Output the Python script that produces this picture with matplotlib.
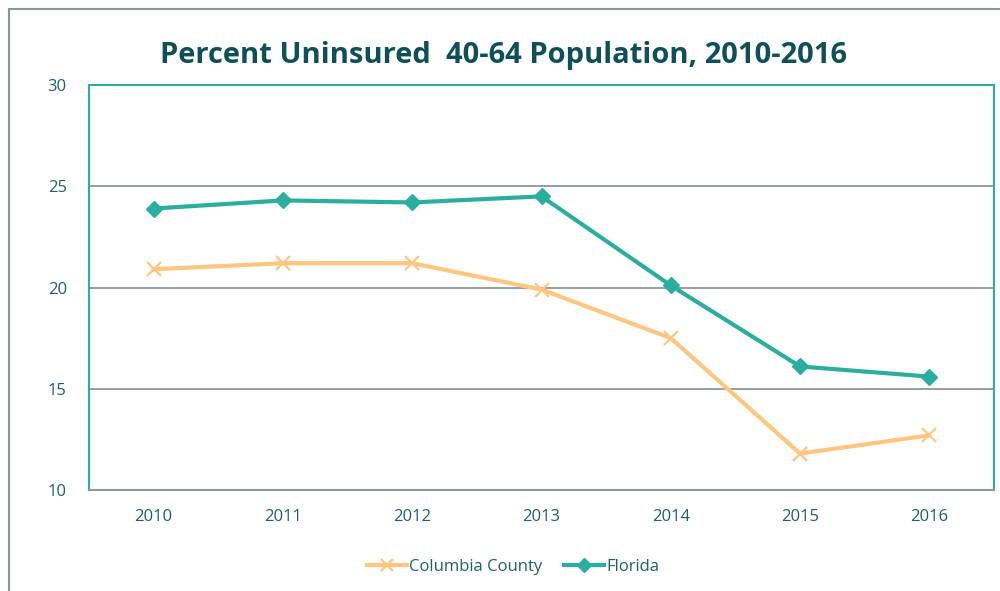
import matplotlib
matplotlib.use("Agg")
import matplotlib.pyplot as plt
from matplotlib.patches import Rectangle

years = ["2010", "2011", "2012", "2013", "2014", "2015", "2016"]
columbia = [20.9, 21.2, 21.2, 19.9, 17.5, 11.8, 12.7]
florida = [23.9, 24.3, 24.2, 24.5, 20.1, 16.1, 15.6]
yticks = [10, 15, 20, 25, 30]

TEAL = "#2AAE9E"
ORANGE = "#FFC680"
GRID = "#8C979B"
TEXT = "#1F5F6B"
TITLE = "#0E4F5A"

plt.rcParams['font.family'] = ['Open Sans', 'DejaVu Sans']

fig = plt.figure(figsize=(10, 5.91), dpi=100)
fig.patch.set_facecolor("white")

# outer chart frame (cropped at right/bottom)
fig.patches.append(Rectangle((9/1000, -0.1), 1.2, (591-9)/591 + 0.1,
                             transform=fig.transFigure, fill=False,
                             edgecolor="#8A9499", linewidth=1.5))

ax = fig.add_axes([89/1000, (591-490)/591, 905/1000, 405/591])
x = list(range(len(years)))
ax.plot(x, columbia, color=ORANGE, lw=3, marker='x', markersize=10,
        markeredgewidth=1.6, label="Columbia County", zorder=3, clip_on=False)
ax.plot(x, florida, color=TEAL, lw=3, marker='D', markersize=8,
        label="Florida", zorder=4, clip_on=False)

ax.set_xlim(-0.5, len(years) - 0.5)
ax.set_ylim(10, 30)
ax.set_yticks(yticks)
ax.set_xticks(x)
ax.set_xticklabels(years)
ax.yaxis.grid(True, color=GRID, lw=1.3)
ax.set_axisbelow(True)
ax.tick_params(axis='both', length=0, labelsize=12, labelcolor=TEXT)
ax.tick_params(axis='y', pad=16)
ax.tick_params(axis='x', pad=14)
for s in ['left', 'top', 'right']:
    ax.spines[s].set_color(TEAL)
    ax.spines[s].set_linewidth(1.5)
ax.spines['bottom'].set_color(GRID)
ax.spines['bottom'].set_linewidth(1.5)

fig.text(0.503, 1 - 56/591, "Percent Uninsured  40-64 Population, 2010-2016",
         ha='center', va='center', fontsize=21, fontweight='bold', color=TITLE)

leg = fig.legend(loc='center', bbox_to_anchor=(0.513, 1 - 567/591), ncol=2,
                 frameon=False, fontsize=12, handlelength=2.4, handletextpad=0.15,
                 columnspacing=1.25, labelcolor=TEXT, markerscale=0.85)

fig.savefig("out.png", dpi=100, facecolor="white")
